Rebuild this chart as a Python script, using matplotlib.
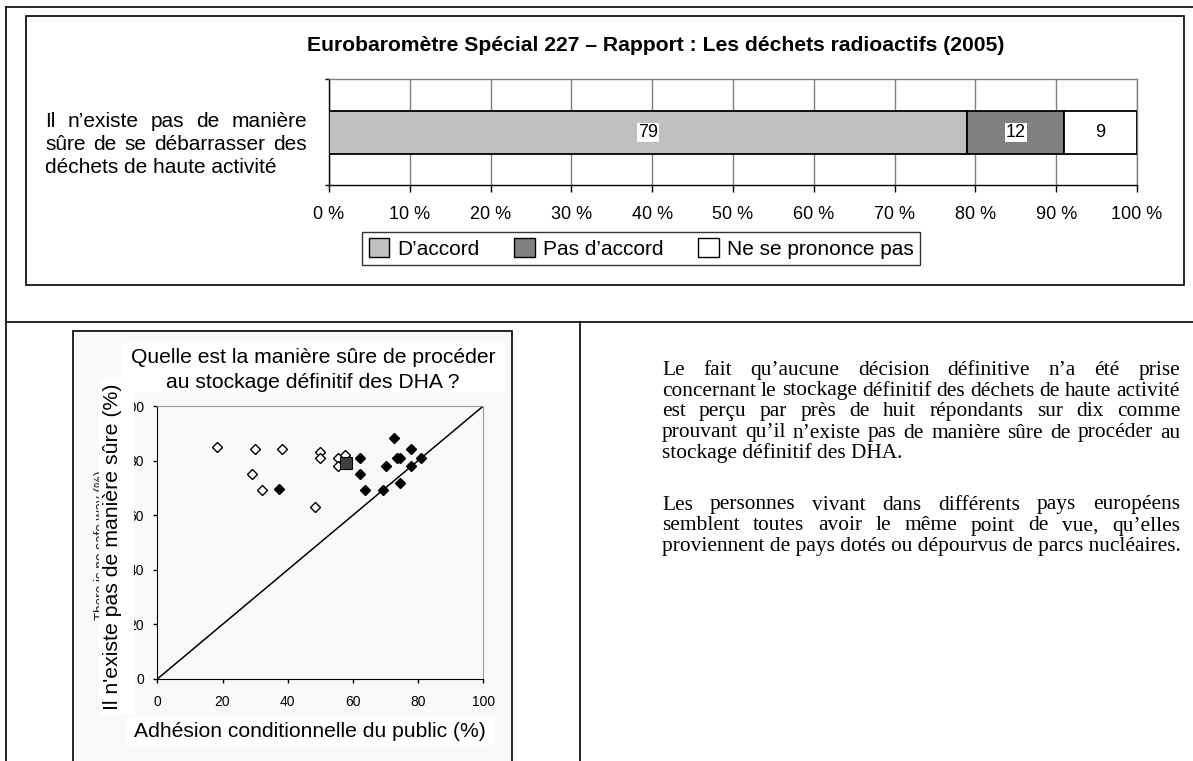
import matplotlib
matplotlib.use("Agg")
import matplotlib.pyplot as plt
from matplotlib.patches import Rectangle, Patch
from matplotlib.lines import Line2D

# ---------------- data ----------------
bar_title = "Eurobaromètre Spécial 227 – Rapport : Les déchets radioactifs (2005)"
bar_category_lines = ["Il n’existe pas de manière",
                      "sûre de se débarrasser des",
                      "déchets de haute activité"]
bar_series = ["D’accord", "Pas d’accord", "Ne se prononce pas"]
bar_values = [79, 12, 9]
bar_colors = ["#c0c0c0", "#808080", "#ffffff"]
bar_ticks = [0, 10, 20, 30, 40, 50, 60, 70, 80, 90, 100]

scatter_title_lines = ["Quelle est la manière sûre de procéder",
                       "au stockage définitif des DHA ?"]
scatter_xlabel = "Adhésion conditionnelle du public (%)"
scatter_ylabel = "Il n'existe pas de manière sûre (%)"
scatter_ghost_label = "There is no safe way (%)"
scatter_ticks = [0, 20, 40, 60, 80, 100]

open_x = [18.4, 30.1, 38.3, 29.1, 32.2, 49.8, 49.8, 55.3, 55.3, 57.6, 48.5]
open_y = [85.1, 84.1, 84.1, 75.0, 69.2, 83.2, 81.0, 80.8, 78.0, 82.1, 63.1]
filled_x = [37.4, 62.3, 62.3, 63.6, 69.1, 70.1, 72.6, 73.6, 74.4, 74.3, 77.7, 77.7, 80.8]
filled_y = [69.7, 81.1, 75.0, 69.3, 69.3, 78.0, 88.3, 81.1, 81.1, 71.8, 84.1, 78.0, 81.1]
eu_x = [58.0]
eu_y = [79.2]

para1 = ["Le fait qu’aucune décision définitive n’a été prise",
         "concernant le stockage définitif des déchets de haute activité",
         "est perçu par près de huit répondants sur dix comme",
         "prouvant qu’il n’existe pas de manière sûre de procéder au",
         "stockage définitif des DHA."]
para2 = ["Les personnes vivant dans différents pays européens",
         "semblent toutes avoir le même point de vue, qu’elles",
         "proviennent de pays dotés ou dépourvus de parcs nucléaires."]

# ---------------- figure ----------------
W, H, DPI = 1193, 761, 100
plt.rcParams["font.family"] = ["Liberation Sans", "DejaVu Sans"]
fig = plt.figure(figsize=(W / DPI, H / DPI), dpi=DPI)
fig.patch.set_facecolor("white")
renderer = fig.canvas.get_renderer()

def fx(px):
    return px / W

def fy(py):
    return 1 - py / H

def fig_line(xs, ys, lw=1.2, color="black", z=2):
    fig.add_artist(Line2D([fx(x) for x in xs], [fy(y) for y in ys], lw=lw,
                          color=color, transform=fig.transFigure, zorder=z))

def fig_rect(x0, y0, x1, y1, fc="none", ec="none", lw=1.0, z=1):
    fig.add_artist(Rectangle((fx(x0), fy(y1)), fx(x1) - fx(x0), fy(y0) - fy(y1),
                             transform=fig.transFigure, fc=fc, ec=ec, lw=lw, zorder=z))

def size_for(text, target, family, weight="normal", rotation=0, base=12.0):
    t = fig.text(0.5, 0.5, text, fontsize=base, family=family, weight=weight,
                 rotation=rotation)
    bb = t.get_window_extent(renderer)
    cur = bb.height if rotation else bb.width
    t.remove()
    return base * target / cur

def line_text(words_line, x0, x1, y, size, family, justify=True, z=3):
    words = words_line.split(" ")
    if not justify or len(words) < 2:
        fig.text(fx(x0), fy(y), words_line, fontsize=size, family=family,
                 ha="left", va="baseline", zorder=z)
        return
    ts = [fig.text(fx(x0), fy(y), w, fontsize=size, family=family,
                   ha="left", va="baseline", zorder=z) for w in words]
    widths = [t.get_window_extent(renderer).width for t in ts]
    gap = (x1 - x0 - sum(widths)) / (len(words) - 1)
    x = x0
    for t, w in zip(ts, widths):
        t.set_x(fx(x))
        x += w + gap

# ---------------- document frame ----------------
fig_line([6, 1193], [7, 7])
fig_line([6, 6], [7, 761])
fig_line([6, 1193], [322, 322])
fig_line([580, 580], [322, 761])
fig_rect(26, 16, 1184, 285, ec="black", lw=1.2, z=1)

# ---------------- bar chart ----------------
sans = ["Liberation Sans", "DejaVu Sans"]
ts = size_for(bar_title, 695, sans, weight="bold")
fig.text(fx(655.5), fy(51), bar_title, fontsize=ts, weight="bold",
         ha="center", va="baseline")

cs = size_for(bar_category_lines[-1], 232, sans)
for i, (ln, yb) in enumerate(zip(bar_category_lines, [127, 150, 173])):
    line_text(ln, 45, 307, yb, cs, sans, justify=(i < len(bar_category_lines) - 1))

axb = fig.add_axes([fx(329), fy(185), fx(1137) - fx(329), fy(79) - fy(185)])
left = 0
for v, c, name in zip(bar_values, bar_colors, bar_series):
    axb.barh(0.495, v, left=left, height=0.406, color=c, edgecolor="black",
             lw=1.3, zorder=3, label=name)
    axb.text(left + v / 2, 0.495, str(v), ha="center", va="center", fontsize=13,
             bbox=dict(fc="white", ec="none", pad=0.6), zorder=4)
    left += v
axb.set_xlim(0, 100)
axb.set_ylim(0, 1)
axb.set_xticks(bar_ticks)
axb.set_xticklabels([f"{t} %" for t in bar_ticks])
axb.set_yticks([0, 1])
axb.set_yticklabels([])
axb.tick_params(axis="x", length=5, width=1, pad=10, labelsize=13)
axb.tick_params(axis="y", length=3, width=1)
axb.grid(axis="x", color="#808080", lw=1, zorder=0)
axb.set_axisbelow(True)
for s in ["left", "bottom"]:
    axb.spines[s].set_color("black")
    axb.spines[s].set_linewidth(1)
for s in ["top", "right"]:
    axb.spines[s].set_color("#808080")
    axb.spines[s].set_linewidth(1)
axb.set_facecolor("white")

handles = [Patch(fc=c, ec="black", lw=1) for c in bar_colors]
leg = fig.legend(handles, bar_series, loc="center",
                 bbox_to_anchor=(fx(641), fy(248.5)), ncol=3, frameon=True,
                 fancybox=False, edgecolor="black", fontsize=15,
                 handlelength=1.0, handleheight=1.0, handletextpad=0.35,
                 columnspacing=1.7, borderpad=0.3)
leg.get_frame().set_linewidth(1)

# ---------------- scatter chart ----------------
fig_rect(73, 331, 512, 800, fc="#f9f9f9", ec="black", lw=1.2, z=-2)

axs = fig.add_axes([fx(157.3), fy(679), (483.3 - 157.3) / W, (679 - 406) / H])
axs.set_facecolor("none")
axs.plot([0, 100], [0, 100], color="black", lw=1.1, zorder=2)
axs.plot(open_x, open_y, ls="none", marker="D", ms=4.7, mfc="white",
         mec="black", mew=1.0, zorder=3)
axs.plot(filled_x, filled_y, ls="none", marker="D", ms=4.7, mfc="black",
         mec="black", mew=1.0, zorder=3)
axs.plot(eu_x, eu_y, ls="none", marker="s", ms=9, mfc="#404040",
         mec="black", mew=0.8, zorder=4)
axs.set_xlim(0, 100)
axs.set_ylim(0, 100)
axs.set_xticks(scatter_ticks)
axs.set_yticks(scatter_ticks)
axs.tick_params(axis="x", length=3, width=1, pad=8.5, labelsize=10)
axs.tick_params(axis="y", length=3, width=1, pad=6.5, labelsize=10)
for s in ["left", "bottom"]:
    axs.spines[s].set_color("black")
for s in ["top", "right"]:
    axs.spines[s].set_color("#999999")

# label boxes
fig_rect(122, 343, 505, 392, fc="white", z=2.9)
fig_rect(127, 717, 495, 745, fc="white", z=2.9)
fig_rect(99, 379, 134, 715, fc="white", z=2.9)

st = size_for(scatter_title_lines[0], 367, sans)
fig.text(fx(313.7), fy(363), scatter_title_lines[0], fontsize=st, ha="center",
         va="baseline", zorder=3)
fig.text(fx(313), fy(388), scatter_title_lines[1], fontsize=st, ha="center",
         va="baseline", zorder=3)
xs_ = size_for(scatter_xlabel, 353, sans)
fig.text(fx(310), fy(737), scatter_xlabel, fontsize=xs_, ha="center",
         va="baseline", zorder=3)
ys_ = size_for(scatter_ylabel, 327, sans, rotation=90)
fig.text(fx(113), fy(546.5), scatter_ylabel, fontsize=ys_, rotation=90,
         ha="center", va="center", zorder=3)
gs = size_for(scatter_ghost_label, 150, sans, rotation=90)
fig.text(fx(101), fy(545), scatter_ghost_label, fontsize=gs, rotation=90,
         ha="center", va="center", color="#222222", zorder=2.5)

# ---------------- right text ----------------
serif = ["Liberation Serif", "DejaVu Serif"]
ps = size_for(para2[-1], 516, serif)
for i, ln in enumerate(para1):
    line_text(ln, 662, 1180, 374.5 + 21 * i, ps, serif, justify=(i < len(para1) - 1))
for i, ln in enumerate(para2):
    line_text(ln, 662, 1180, 509.5 + 21 * i, ps, serif, justify=(i < len(para2) - 1))

fig.savefig("out.png", dpi=DPI, facecolor="white")
